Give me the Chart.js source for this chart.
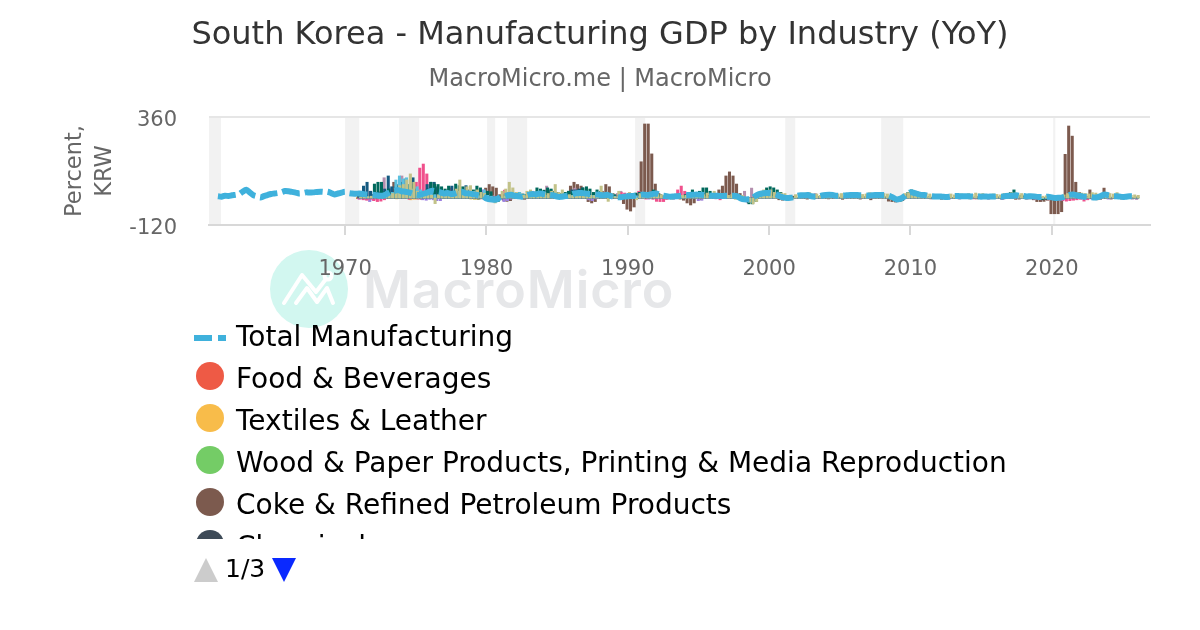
<!DOCTYPE html>
<html>
<head>
<meta charset="utf-8">
<script src="https://cdn.jsdelivr.net/npm/chart.js@4"></script>
<style>
html,body{margin:0;padding:0;background:#fff;width:1200px;height:630px;overflow:hidden;font-family:"DejaVu Sans",sans-serif}
#wrap{position:relative;width:1200px;height:630px}
canvas{position:absolute;left:0;top:0}
#legend{position:absolute;left:194px;top:316px;width:900px;height:223px;overflow:hidden;color:#000}
.row{position:absolute;left:0;height:42px;line-height:42px;font-size:28px;white-space:nowrap}
.row span.t{position:absolute;left:42px;top:0}
.dot{position:absolute;left:2px;top:4px;width:28px;height:28px;border-radius:50%}
.dash{position:absolute;left:0;top:19px;width:32px;height:6px}
#pager{position:absolute;left:194px;top:556px;height:28px;width:120px}
#pager span{position:absolute;left:31px;top:-1px;font-size:25px;line-height:28px;color:#000}
#pager i{position:absolute;top:2px;width:0;height:0;border-left:12px solid transparent;border-right:12px solid transparent}
</style>
</head>
<body>
<div id="wrap">
<canvas id="c" width="1200" height="630"></canvas>
<div id="legend"></div>
<div id="pager"><i style="left:0;border-bottom:24px solid #ccc"></i><span>1/3</span><i style="left:78px;border-top:24px solid #0a29ff"></i></div>
</div>
<script>
const titleText = "South Korea - Manufacturing GDP by Industry (YoY)";
const subtitleText = "MacroMicro.me | MacroMicro";
const yTicks = [-120, 360];
const xTicks = [1970, 1980, 1990, 2000, 2010, 2020];
const recessions = [[1960.37,1961.22],[1970,1971],[1973.82,1975.24],[1980.05,1980.62],[1981.46,1982.88],[1990.52,1991.23],[2001.14,2001.85],[2007.93,2009.49],[2020.1,2020.25]];

// Total manufacturing: quarterly from 1961.0
const totalStart = 1961;
const total = [
8,6,10,9, 12,14,17,28, 37,25,13,8, 2,8,13,18, 20,22,26,31,
30,27,24,20, 22,25,24,25, 27,28,27,28, 22,16,20,24, 28,22,20,19,
20,18,16,15, 14,12,10,12, 20,28,32,35, 30,28,25,20, 15,14,18,22,
30,32,28,25, 20,22,18,20, 25,28,22,20, 18,15,12,8, -2,-6,-8,-5,
5,8,12,14, 10,8,6,10, 15,18,16,20, 18,15,14,12, 6,5,8,10,
15,20,22,22, 20,18,18,16, 14,12,14,10, 5,4,3,6, 8,9,10,12,
15,14,14,18, 20,15,10,8, 6,7,8,10, 12,13,14,15, 15,14,13,11,
10,10,9,9, 10,10,10,7, -2,-6,-6,-4, 8,16,20,22, 22,20,16,8,
3,0,1,4, 10,12,12,13, 8,6,7,11, 13,14,13,10, 10,11,12,13,
13,13,12,12, 11,12,13,13, 13,13,10,3, -6,-4,4,16, 25,23,18,14,
13,10,8,7, 7,6,5,6, 8,9,8,8, 8,7,6,7, 6,7,6,7,
7,7,6,9, 10,10,12,9, 9,7,8,7, 5,4,4,6, 3,0,1,3,
8,14,16,12, 9,6,5,4, 2,4,10,16, 12,9,8,7, 5,6,8,8, 9];

// Industry series: quarterly from 1971.0
const barStart = 1971;
const food = [
-3,2,3,4,5,-4,3,4,6,5,4,3,4,5,6,3,2,-5,-6,4,
5,6,3,4,5,3,2,4,3,5,6,4,3,2,-5,-4,-3,4,5,6,
4,3,5,6,4,5,3,2,4,5,6,3,5,4,3,6,4,5,3,2,
3,5,4,6,5,3,2,4,3,5,6,4,2,3,4,3,5,4,3,2];
const textiles = [
4,5,6,3,8,6,5,4,10,8,6,-4,5,3,4,-8,-6,4,5,6,
8,6,5,4,6,5,3,2,5,4,3,4,-5,-6,-4,3,4,5,3,6,
5,4,3,2,4,5,3,4,3,4,5,2,4,3,5,6,3,4,5,2,
3,4,5,3,4,2,-3,-4,3,2,4,-3,2,3,4,3,-3,2,4,3];
const wood = [
3,4,5,6,8,5,4,6,12,10,8,6,4,3,5,4,6,8,5,4,
6,5,3,4,6,5,4,3,5,6,4,3,-3,-4,-5,3,5,6,4,3,
5,4,6,3,4,3,5,4,5,6,4,3,4,5,3,6,4,3,5,4,
5,3,4,6,3,4,5,3,2,3,4,5,4,3,2,4,5,3,4,6];
const coke = [
8,12,5,-6,10,15,20,25,30,40,70,55,40,30,25,20,15,10,8,20,
10,20,45,30,25,35,20,25,20,15,25,20,15,20,25,30,44,60,50,44,
15,-10,-15,-12,8,12,5,-6,5,15,18,12,12,10,5,10,5,8,12,10,
53,70,60,53,15,-16,-22,-16,8,30,60,50,20,10,-5,-25,-50,-58,-40,10,
161,329,329,196,62,20,10,-5,5,12,8,-5,-10,-22,-31,-22,10,-8,5,12,
20,15,36,53,98,116,98,62,20,-5,-15,-10,10,5,8,15,20,18,15,-8,
-10,-8,-5,8,3,5,-2,-5,4,-3,5,6,8,-4,5,6,4,-6,3,2,
5,3,-5,2,4,-8,5,3,8,4,-14,-16,-18,-16,-12,6,8,6,12,4,
5,3,-4,2,3,-6,-5,2,3,-3,-4,2,-3,-4,3,-4,-3,2,4,3,
5,4,-5,3,4,6,-6,-5,3,-5,-4,-8,-16,-16,-15,-10,-70,-70,-70,-61,
194,320,275,70,25,15,8,36,10,-8,-6,44,8,-5,5,6,-5,4,5,-4,5];
const chemicals = [
10,8,12,6,15,18,12,14,20,25,22,16,18,14,10,8,6,5,10,12,
16,14,10,8,12,10,8,6,10,12,8,6,4,3,-4,5,6,8,5,4,
6,5,8,7,6,5,4,6,8,7,5,4,6,5,7,6,5,4,6,8,
6,5,7,8,6,4,5,3,4,6,5,4,3,4,5,6,4,6,5,4];
const purple = [
-5,-4,-8,-16,-10,-6,5,8,15,40,12,10,8,6,5,4,4,-4,-8,-10,
-6,-8,-12,-12,4,6,8,5,6,25,30,15,10,5,20,36,8,-8,-5,-10,
-6,-16,-12,-5,5,6,4,8,3,5,6,4,5,6,4,12,8,4,5,6,
4,6,5,12,8,-8,-12,-4,5,3,6,4,5,6,4,12,8,5,6,18,
10,4,-5,-3,3,4,-2,-3,4,-6,-3,5,4,8,6,-3,-12,-10,5,4,
3,-4,4,5,3,4,-2,3,5,-6,-12,-10,-8,4,8,6,10,8,5,6,
3,2,-3,3,2,3,2,3,3,2,3,2,3,4,3,2,3,2,3,2,
3,2,3,2,3,4,2,3,3,2,-4,-6,-8,-5,3,6,8,5,4,3,
3,2,3,2,2,3,2,-5,2,3,-4,2,3,2,3,2,3,4,2,3,
2,3,-4,2,3,4,2,3,2,3,2,3,-2,-3,-5,-6,-7,-5,-4,2,
3,4,-6,-5,-3,3,2,-4,3,2,3,2,-5,3,2,3,2,3,2,-4,-5];
const mauve = [
5,3,12,30,10,8,25,90,30,25,15,35,98,30,25,20,15,10,8,12,
20,15,10,8,12,10,8,6,10,12,15,8,5,10,12,15,20,15,10,6,
8,10,6,5,6,8,12,10,5,8,6,4,10,53,15,8,6,8,5,10,
10,44,12,8,5,8,6,4,3,5,6,8,12,20,30,10,8,6,5,8,
5,4,6,5,3,4,5,6,4,5,3,8,6,5,4,3,5,4,3,5,
4,5,3,2,5,3,4,6,6,30,-22,44,6,10,5,4,5,6,4,3,
3,2,3,2,2,3,2,3,3,20,2,3,2,3,2,3,3,2,3,2,
2,3,2,3,3,2,3,2,3,2,-3,-4,-5,-3,2,4,5,3,2,3,
3,2,3,2,3,2,4,3,2,3,2,3,3,2,3,8,3,2,4,2,
3,2,-4,3,2,3,2,3,2,3,2,3,-2,-3,-2,-3,-4,-3,-2,2,
3,4,3,2,3,2,3,4,2,3,2,3,3,2,3,2,3,2,3,-3,-6];
const pink = [
-5,-8,-10,-6,-12,-16,-14,-8,5,10,15,12,8,6,-6,30,70,133,151,107,
60,25,20,15,30,25,45,20,20,30,25,15,10,5,20,15,15,8,-10,-6,
8,35,25,10,6,12,8,5,5,30,6,8,15,25,6,10,8,10,6,12,
10,8,5,12,15,12,10,8,5,10,8,12,6,10,25,22,15,8,12,30,
25,-5,8,-6,-15,-16,-16,-6,5,8,36,53,30,8,5,6,6,12,8,5,
6,5,-8,6,6,5,8,5,6,-10,-20,-15,5,10,8,12,8,6,5,3,
4,3,-3,2,3,2,-2,3,2,3,-3,2,3,4,-2,3,3,2,-3,2,
3,2,-3,4,2,-3,3,2,4,3,-4,-8,-12,-8,-4,8,10,6,4,2,
4,3,2,3,3,5,8,-3,3,6,8,-3,3,8,-4,2,6,8,-5,3,
2,3,-6,3,2,3,-3,2,3,-4,2,-5,-6,-8,-5,-8,-6,-8,-10,-12,
-14,-12,-10,-8,-6,-14,-8,-3,3,-3,4,2,3,-3,2,3,2,-3,3,2,3];
const navy = [
20,53,70,30,15,25,30,40,98,50,50,60,70,85,60,90,40,30,25,60,
70,70,50,40,30,25,53,36,30,25,55,36,20,25,36,15,10,12,5,-6,
8,15,10,12,12,10,8,15,12,10,20,25,20,30,36,28,22,15,20,30,
36,36,40,45,25,15,8,12,5,8,12,10,6,5,8,10,12,15,18,15,
10,8,12,15,8,5,6,8,6,5,8,5,6,12,20,22,15,18,20,12,
8,6,5,4,6,5,4,3,-8,-14,-20,-18,-12,4,12,25,30,25,20,10,
3,2,4,3,2,3,4,2,3,2,4,3,4,5,3,2,3,4,2,3,
2,3,4,2,3,4,2,3,4,2,-5,-8,-10,-8,4,15,18,15,10,5,
4,3,2,3,2,3,2,2,3,2,3,2,4,5,3,2,3,4,3,2,
2,3,2,3,5,8,6,4,5,3,2,3,-3,-4,-2,-3,-5,-4,-2,2,
3,4,3,2,2,3,2,3,2,3,2,3,3,2,3,2,2,3,2,2,2];
const teal = [
10,8,6,5,62,70,70,30,40,25,45,60,55,40,55,60,30,25,20,40,
70,62,60,50,40,53,20,62,55,50,36,30,36,53,45,25,30,28,-8,-16,
5,15,10,25,20,25,18,15,12,20,45,40,35,45,40,30,25,20,25,30,
30,25,35,45,50,40,25,36,30,20,12,18,15,10,8,12,20,18,22,25,
20,15,25,36,20,15,8,12,10,6,8,12,15,22,36,25,30,45,45,30,
20,15,12,6,5,8,10,6,-12,-16,-26,-26,-16,5,30,45,50,45,36,25,
6,4,3,4,2,5,6,4,3,4,5,6,5,8,6,4,3,5,6,4,
4,5,6,5,8,5,6,4,6,5,-6,-12,-16,-14,5,25,36,30,18,10,
8,6,4,5,3,4,2,3,3,4,5,3,5,6,5,4,6,5,8,5,
4,5,3,5,25,36,20,12,10,8,5,4,-5,-8,-6,-4,-8,-6,-5,2,
6,5,4,3,3,2,3,4,3,5,4,3,5,4,3,5,3,4,3,2,3];
const lightBlue = [
5,8,6,4,12,10,15,25,15,25,80,98,85,90,60,40,50,36,30,25,
20,15,10,12,15,10,8,12,30,25,20,10,25,15,10,36,12,8,5,4,
6,8,5,20,12,25,15,10,8,6,20,15,10,12,8,15,18,12,10,8,
12,20,15,10,8,6,12,10,6,8,10,12,8,6,5,10,12,15,10,8,
20,15,10,12,8,5,6,4,3,5,8,4,5,6,8,10,12,8,6,5,
6,4,5,6,3,5,4,3,-5,-10,-18,-20,-12,8,15,10,12,8,6,5,
3,4,2,3,4,3,2,3,2,3,4,3,5,4,3,2,3,2,3,4,
3,4,2,3,4,3,5,2,3,2,-3,-5,-8,-6,6,12,15,12,8,6,
4,3,2,3,2,3,2,2,3,2,3,4,3,2,4,3,2,3,4,3,
3,2,3,2,4,3,2,3,2,3,2,3,-2,-3,-2,-4,-6,-4,-3,2,
4,6,5,4,3,4,2,3,4,3,2,3,4,3,2,3,3,2,3,2,3];
const khaki = [
5,4,6,8,6,12,10,15,12,20,30,55,60,80,107,70,30,25,20,15,
12,-25,15,12,10,20,30,40,80,30,50,55,30,36,25,20,-8,-16,-22,-8,
30,40,70,45,25,18,12,30,36,20,15,12,25,20,30,60,25,36,12,15,
10,12,15,20,8,12,10,20,53,12,-15,20,5,30,10,8,25,15,-8,20,
15,25,20,22,18,15,12,12,-6,5,8,12,12,8,22,10,10,15,22,15,
30,15,10,8,12,15,-6,8,12,-10,-18,-26,-16,30,36,20,36,25,20,22,
20,8,-6,15,18,20,22,24,16,18,12,20,24,20,16,18,20,12,18,16,
22,20,16,18,24,20,16,22,20,18,-6,-9,-14,-10,20,24,28,26,22,18,
20,18,14,16,14,12,16,18,14,16,18,12,20,16,22,18,20,14,16,18,
16,14,20,18,24,22,18,20,16,14,12,16,10,8,10,6,4,8,10,14,
20,22,18,24,22,20,18,24,22,16,14,12,20,18,24,16,14,16,12,14,12];

const lineName = "Total Manufacturing";
const lineColor = "#3fb1dc";
// Drawn bottom to top
const barNames = ["Food & Beverages","Textiles & Leather","Wood & Paper Products, Printing & Media Reproduction","Coke & Refined Petroleum Products","Chemicals","Metals","Machinery","Electronics","Electrical Equipment","Transport Equipment","Other Products","Other Manufacturing"];
const barSeries = [food,textiles,wood,coke,chemicals,purple,mauve,pink,navy,teal,lightBlue,khaki];
const barColors = ["#ee5a45","#f8bc4a","#74cc66","#7c5a4e","#3d4a57","#9b7fe0","#b48fae","#f0508c","#155a80","#00695c","#5bc0de","#c2c288"];
const shownLegendRows = 5; // plus the clipped sixth row
// Slight per-series shift inside each quarter, in years, as the columns sit side by side
const seriesShift = [-0.117,-0.096,-0.075,-0.053,-0.032,-0.011,0.011,0.032,0.053,0.075,0.096,0.117];

function points(values, start){ return values.map((v,i)=>({x:start+i/4,y:v})); }

const datasets = [{type:'line',label:lineName,data:points(total,totalStart),borderColor:lineColor,backgroundColor:lineColor,borderWidth:6,borderDash:[18,5],pointRadius:0,tension:0.3,order:0}];
barSeries.forEach((vals,i)=>datasets.push({type:'bar',label:barNames[i],data:points(vals,barStart+seriesShift[i]),backgroundColor:barColors[i],barThickness:2.4,grouped:false,order:barSeries.length-i}));

const backdrop = {id:'backdrop',beforeDraw(chart){
  const c=chart.ctx,a=chart.chartArea,xs=chart.scales.x;
  c.save();
  c.fillStyle='#fff';c.fillRect(0,0,chart.width,chart.height);
  // watermark
  c.fillStyle='#d2f7f0';c.beginPath();c.arc(309,289,39,0,Math.PI*2);c.fill();
  c.strokeStyle='#fff';c.lineWidth=4;c.lineJoin='round';c.lineCap='round';
  c.beginPath();c.moveTo(284,303);c.lineTo(302,275);c.lineTo(316,292);c.lineTo(326,279);c.stroke();
  c.beginPath();c.arc(328,276,3.5,0,Math.PI*2);c.stroke();
  c.beginPath();c.moveTo(296,303);c.lineTo(307,288);c.lineTo(317,302);c.lineTo(327,288);c.lineTo(333,303);c.stroke();
  c.fillStyle='#e6e7e9';c.font='600 52px Inter';c.textAlign='left';c.textBaseline='alphabetic';
  c.letterSpacing='0.9px';
  c.fillText('MacroMicro',363,308);
  c.letterSpacing='0px';
  // recession bands
  c.fillStyle='#f2f2f2';
  recessions.forEach(r=>{const x0=xs.getPixelForValue(r[0]),x1=xs.getPixelForValue(r[1]);c.fillRect(x0,a.top,x1-x0,a.bottom-a.top);});
  c.restore();
}};

new Chart(document.getElementById('c'),{
  type:'bar',
  data:{datasets},
  plugins:[backdrop],
  options:{
    responsive:false,animation:false,devicePixelRatio:1,
    layout:{padding:{left:0,right:0,top:0,bottom:355}},
    plugins:{
      legend:{display:false},tooltip:{enabled:false},
      title:{display:true,text:titleText,color:'#333',font:{family:'DejaVu Sans',size:32,weight:'normal'},padding:{top:16,bottom:11.2}},
      subtitle:{display:true,text:subtitleText,color:'#666',font:{family:'DejaVu Sans',size:24,weight:'normal'},padding:{top:0,bottom:22.6}}
    },
    scales:{
      x:{type:'linear',min:1960.37,max:2026.95,offset:false,
        afterBuildTicks(s){s.ticks=xTicks.map(v=>({value:v}));},
        afterFit(s){s.height=50;},
        border:{color:'#d8d8d8',width:2},
        grid:{offset:false,drawOnChartArea:false,drawTicks:true,tickLength:10,color:'#d8d8d8',lineWidth:2},
        ticks:{color:'#666',font:{family:'DejaVu Sans',size:21},padding:22,maxRotation:0,autoSkip:false,callback:v=>String(v)}
      },
      y:{type:'linear',min:-120,max:360,
        afterBuildTicks(s){s.ticks=yTicks.map(v=>({value:v}));},
        afterFit(s){s.width=209;},
        border:{display:false},
        grid:{color:'#e6e6e6',lineWidth:2,drawTicks:false},
        ticks:{color:'#666',font:{family:'DejaVu Sans',size:21},padding:32,labelOffset:4,callback:v=>String(v)},
        title:{display:true,text:['Percent,','KRW'],color:'#666',font:{family:'DejaVu Sans',size:22.5,lineHeight:1.33},padding:{top:60,bottom:0}}
      },
      spacer:{type:'linear',position:'right',display:true,
        afterFit(s){s.width=50;},
        border:{display:false},grid:{display:false},ticks:{display:false}
      }
    }
  }
});

// HTML legend, first page, clipped as in the pager
const legend=document.getElementById('legend');
function addRow(i,name,inner){const r=document.createElement('div');r.className='row';r.style.top=(i*42)+'px';r.innerHTML=inner;const t=document.createElement('span');t.className='t';t.textContent=name;r.appendChild(t);legend.appendChild(r);}
addRow(0,lineName,`<svg class="dash" width="32" height="6"><line x1="0" y1="3" x2="32" y2="3" stroke="${lineColor}" stroke-width="6" stroke-dasharray="18 6"/></svg>`);
barNames.slice(0,shownLegendRows).forEach((n,i)=>addRow(i+1,n,`<div class="dot" style="background:${barColors[i]}"></div>`));
</script>
</body>
</html>
